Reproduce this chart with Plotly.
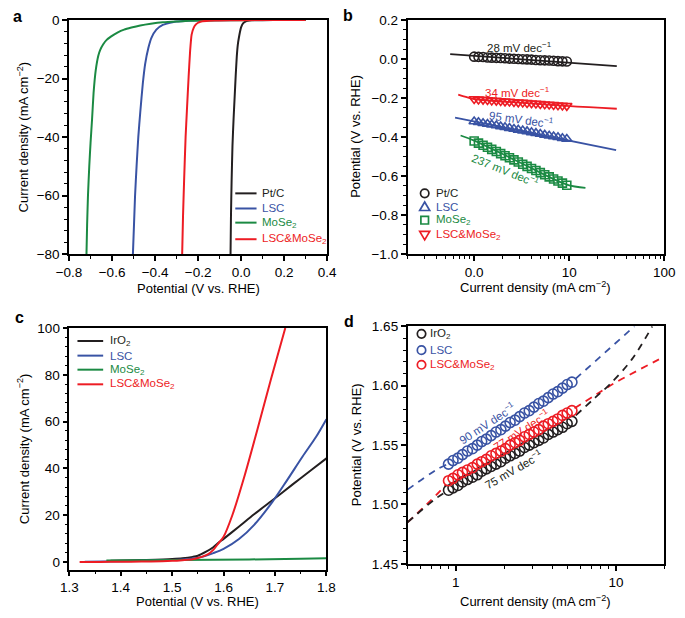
import plotly.graph_objects as go

W, H = 685, 618
def fx(p): return p / W
def fy(p): return 1 - p / H

BLACK = "#231f20"; BLUE = "#3953a4"; GREEN = "#1b8a43"; RED = "#ed1c24"
FONT = "Liberation Sans, Arial, Helvetica, sans-serif"

# ---------------- Panel a: HER polarization ----------------
a_ptc_x = [0.30, 0.20, 0.10, 0.05, 0.03, 0.02, 0.01, 0.0, -0.005, -0.01, -0.015, -0.02, -0.025, -0.03, -0.035, -0.04, -0.044, -0.047, -0.049]
a_ptc_y = [0.0, 0.0, -0.05, -0.1, -0.3, -0.6, -1.1, -2.5, -4.0, -6.0, -8.3, -12.5, -19.0, -26.5, -34.0, -43.0, -55.0, -67.0, -80.0]
a_lsc_x = [0.30, 0.10, -0.10, -0.20, -0.25, -0.28, -0.30, -0.319, -0.34, -0.364, -0.394, -0.417, -0.431, -0.446, -0.457, -0.469, -0.478, -0.486, -0.493, -0.498, -0.503]
a_lsc_y = [0.0, -0.02, -0.08, -0.15, -0.25, -0.4, -0.55, -0.8, -1.15, -1.7, -3.3, -6.1, -9.5, -15.0, -21.7, -31.7, -40.0, -50.0, -60.0, -70.0, -80.0]
a_mose_x = [0.30, 0.0, -0.10, -0.20, -0.244, -0.30, -0.364, -0.42, -0.469, -0.51, -0.544, -0.575, -0.604, -0.625, -0.641, -0.655, -0.664, -0.676, -0.686, -0.693, -0.700, -0.706, -0.712, -0.716, -0.719]
a_mose_y = [0.0, -0.05, -0.1, -0.2, -0.3, -0.5, -0.8, -1.3, -1.9, -2.6, -3.3, -4.3, -5.6, -6.8, -8.3, -10.2, -12.2, -17.2, -25.0, -33.9, -42.0, -50.0, -60.0, -70.0, -80.0]
a_mix_x = [0.30, 0.0, -0.10, -0.15, -0.18, -0.19, -0.20, -0.21, -0.22, -0.23, -0.237, -0.244, -0.252, -0.258, -0.265, -0.270, -0.274]
a_mix_y = [0.0, -0.05, -0.15, -0.25, -0.4, -0.6, -0.95, -1.5, -2.6, -5.0, -10.6, -19.5, -31.0, -40.0, -55.0, -67.0, -80.0]

# ---------------- Panel b: HER Tafel ----------------
b_x = [1.00, 1.11, 1.24, 1.38, 1.53, 1.71, 1.90, 2.11, 2.35, 2.62, 2.91, 3.24, 3.60, 4.01, 4.46, 4.96, 5.52, 6.15, 6.84, 7.61, 8.47, 9.42]
b_ptc_y = [0.012, 0.011, 0.010, 0.008, 0.007, 0.006, 0.005, 0.004, 0.002, 0.001, 0.000, -0.001, -0.002, -0.003, -0.005, -0.006, -0.007, -0.008, -0.009, -0.011, -0.012, -0.013]
b_lsc_y = [-0.320, -0.324, -0.329, -0.333, -0.337, -0.341, -0.346, -0.350, -0.354, -0.359, -0.363, -0.367, -0.371, -0.376, -0.380, -0.384, -0.389, -0.393, -0.397, -0.401, -0.406, -0.410]
b_mose_y = [-0.420, -0.431, -0.442, -0.452, -0.463, -0.474, -0.485, -0.496, -0.506, -0.517, -0.528, -0.539, -0.550, -0.561, -0.571, -0.582, -0.593, -0.604, -0.615, -0.625, -0.636, -0.647]
b_mix_y = [-0.205, -0.207, -0.208, -0.210, -0.212, -0.213, -0.215, -0.217, -0.218, -0.220, -0.222, -0.223, -0.225, -0.227, -0.228, -0.230, -0.232, -0.233, -0.235, -0.237, -0.238, -0.240]
b_fit_ptc_x = [0.56, 31.6]; b_fit_ptc_y = [0.025, -0.037]
b_fit_mix_x = [0.68, 0.85, 1.0, 9.4, 31.6]; b_fit_mix_y = [-0.183, -0.197, -0.205, -0.240, -0.255]
b_fit_lsc_x = [0.63, 31.1]; b_fit_lsc_y = [-0.300, -0.467]
b_fit_mose_x = [0.72, 1.0, 3.0, 9.25, 14.8]; b_fit_mose_y = [-0.392, -0.418, -0.529, -0.642, -0.660]
b_yticks = [-1.0, -0.8, -0.6, -0.4, -0.2, 0.0, 0.2]

# ---------------- Panel c: OER polarization ----------------
c_iro_x = [1.38, 1.40, 1.45, 1.50, 1.52, 1.54, 1.55, 1.566, 1.58, 1.591, 1.60, 1.629, 1.66, 1.695, 1.735, 1.77, 1.80]
c_iro_y = [0.5, 0.6, 0.9, 1.3, 1.6, 2.2, 2.7, 4.4, 6.3, 8.4, 9.9, 15.0, 20.5, 26.4, 33.3, 39.2, 44.3]
c_lsc_x = [1.33, 1.40, 1.45, 1.50, 1.52, 1.54, 1.56, 1.58, 1.60, 1.63, 1.66, 1.695, 1.723, 1.754, 1.78, 1.80]
c_lsc_y = [0.1, 0.35, 0.6, 0.9, 1.1, 1.5, 2.3, 3.8, 5.6, 9.8, 16.0, 25.7, 34.8, 45.2, 53.5, 61.0]
c_mose_x = [1.372, 1.45, 1.55, 1.65, 1.75, 1.80]
c_mose_y = [0.6, 0.7, 0.9, 1.1, 1.4, 1.6]
c_mix_x = [1.32, 1.36, 1.40, 1.44, 1.48, 1.50, 1.52, 1.54, 1.55, 1.56, 1.57, 1.58, 1.59, 1.60, 1.617, 1.641, 1.665, 1.692, 1.72]
c_mix_y = [0.0, 0.05, 0.1, 0.2, 0.35, 0.5, 0.8, 1.2, 1.7, 2.4, 3.4, 5.2, 8.0, 10.8, 20.0, 37.0, 56.0, 78.0, 100.0]

# ---------------- Panel d: OER Tafel ----------------
d_x = [0.90, 0.96, 1.03, 1.10, 1.18, 1.27, 1.36, 1.45, 1.55, 1.66, 1.78, 1.91, 2.04, 2.18, 2.34, 2.50, 2.68, 2.87, 3.07, 3.29, 3.52, 3.77, 4.04, 4.32, 4.63, 4.95, 5.30]
d_iro_y = [1.512, 1.514, 1.516, 1.519, 1.521, 1.523, 1.525, 1.528, 1.530, 1.532, 1.534, 1.536, 1.539, 1.541, 1.543, 1.545, 1.548, 1.550, 1.552, 1.554, 1.556, 1.559, 1.561, 1.563, 1.565, 1.568, 1.570]
d_lsc_y = [1.534, 1.537, 1.539, 1.542, 1.545, 1.547, 1.550, 1.553, 1.555, 1.558, 1.561, 1.563, 1.566, 1.569, 1.571, 1.574, 1.577, 1.579, 1.582, 1.585, 1.587, 1.590, 1.593, 1.595, 1.598, 1.601, 1.603]
d_mix_y = [1.520, 1.522, 1.525, 1.527, 1.529, 1.531, 1.534, 1.536, 1.538, 1.541, 1.543, 1.545, 1.547, 1.550, 1.552, 1.554, 1.557, 1.559, 1.561, 1.563, 1.566, 1.568, 1.570, 1.572, 1.575, 1.577, 1.579]
d_fit_iro_x = [0.5, 0.75, 0.88, None, 5.6, 7.4, 9.1, 12.5, 16.8]
d_fit_iro_y = [1.485, 1.505, 1.511, None, 1.575, 1.590, 1.601, 1.622, 1.650]
d_fit_mix_x = [0.5, 0.75, 0.87, None, 5.5, 7.4, 10.0, 20.0]
d_fit_mix_y = [1.485, 1.5076, 1.517, None, 1.581, 1.592, 1.603, 1.6245]
d_fit_lsc_x = [0.5, 0.75, 0.87, None, 5.6, 13.0]
d_fit_lsc_y = [1.5125, 1.529, 1.5335, None, 1.606, 1.650]

fig = go.Figure()

def add_line(x, y, color, xa, ya, width=2.0, dash=None, shape="linear", smoothing=1.0):
    ln = dict(color=color, width=width, dash=dash, shape=shape)
    if shape == "spline":
        ln["smoothing"] = smoothing
    fig.add_trace(go.Scatter(x=x, y=y, mode="lines", xaxis=xa, yaxis=ya, showlegend=False,
                             hoverinfo="skip", line=ln))

def add_markers(x, y, color, symbol, xa, ya, size=9):
    fig.add_trace(go.Scatter(x=x, y=y, mode="markers", xaxis=xa, yaxis=ya, showlegend=False,
                             hoverinfo="skip",
                             marker=dict(symbol=symbol, size=size, color=color,
                                         line=dict(color=color, width=1.6))))

# a
add_line(a_ptc_x, a_ptc_y, BLACK, "x", "y", shape="spline", smoothing=0.5)
add_line(a_lsc_x, a_lsc_y, BLUE, "x", "y", shape="spline", smoothing=0.5)
add_line(a_mose_x, a_mose_y, GREEN, "x", "y", shape="spline", smoothing=0.5)
add_line(a_mix_x, a_mix_y, RED, "x", "y", shape="spline", smoothing=0.5)

# b
add_line(b_fit_ptc_x, b_fit_ptc_y, BLACK, "x2", "y2", 1.8)
add_line(b_fit_mix_x, b_fit_mix_y, RED, "x2", "y2", 1.8, shape="spline")
add_line(b_fit_lsc_x, b_fit_lsc_y, BLUE, "x2", "y2", 1.8)
add_line(b_fit_mose_x, b_fit_mose_y, GREEN, "x2", "y2", 1.8, shape="spline")
add_markers(b_x, b_ptc_y, BLACK, "circle-open", "x2", "y2", 9)
add_markers(b_x, b_mix_y, RED, "triangle-down-open", "x2", "y2", 9)
add_markers(b_x, b_lsc_y, BLUE, "triangle-up-open", "x2", "y2", 9)
add_markers(b_x, b_mose_y, GREEN, "square-open", "x2", "y2", 8)

# c
add_line(c_iro_x, c_iro_y, BLACK, "x3", "y3", shape="spline", smoothing=0.8)
add_line(c_lsc_x, c_lsc_y, BLUE, "x3", "y3", shape="spline", smoothing=0.8)
add_line(c_mose_x, c_mose_y, GREEN, "x3", "y3")
add_line(c_mix_x, c_mix_y, RED, "x3", "y3", shape="spline", smoothing=0.8)

# d
add_line(d_fit_lsc_x, d_fit_lsc_y, BLUE, "x4", "y4", 1.8, dash="7px,6px", shape="spline")
add_line(d_fit_mix_x, d_fit_mix_y, RED, "x4", "y4", 1.8, dash="7px,6px", shape="spline")
add_line(d_fit_iro_x, d_fit_iro_y, BLACK, "x4", "y4", 1.8, dash="7px,6px", shape="spline")
add_markers(d_x, d_iro_y, BLACK, "circle-open", "x4", "y4", 10)
add_markers(d_x, d_lsc_y, BLUE, "circle-open", "x4", "y4", 10)
add_markers(d_x, d_mix_y, RED, "circle-open", "x4", "y4", 10)

def axis(domain, anchor, **kw):
    minor = dict(ticks="outside", ticklen=3, tickwidth=1.2, tickcolor="black", showgrid=False)
    minor.update(kw.pop("minor", {}))
    d = dict(domain=domain, anchor=anchor, showline=True, linecolor="black", linewidth=1.5,
             mirror=True, ticks="outside", ticklen=5, tickwidth=1.5, tickcolor="black",
             showgrid=False, zeroline=False, tickfont=dict(size=13.5, color="black", family=FONT),
             minor=minor)
    d.update(kw)
    return d

xa_dom = [fx(58), fx(325)]
xb_dom = [fx(408.3), fx(674)]
xc_dom = [fx(58.3), fx(324.3)]
xd_dom = [fx(408.3), fx(674)]
ya_dom = [fy(253.3), fy(13.3)]
yb_dom = [fy(253.3), fy(13.3)]
yc_dom = [fy(576.5), fy(329)]
yd_dom = [fy(570.7), fy(327.3)]

log_minor_b = [0.2, 0.3, 0.4, 0.5, 0.6, 0.7, 0.8, 0.9, 2, 3, 4, 5, 6, 7, 8, 9, 20, 30, 40, 50, 60, 70, 80, 90]
log_minor_d = [0.5, 0.6, 0.7, 0.8, 0.9, 2, 3, 4, 5, 6, 7, 8, 9, 20]

fig.update_layout(
    width=W, height=H, margin=dict(l=0, r=0, t=0, b=0),
    paper_bgcolor="white", plot_bgcolor="white",
    font=dict(family=FONT, color="black"),
    showlegend=False,
    xaxis=axis(xa_dom, "y", range=[-0.8, 0.4], tick0=-0.8, dtick=0.2, tickformat=".1f",
               minor=dict(dtick=0.1, tick0=-0.8)),
    yaxis=axis(ya_dom, "x", range=[-80, 0], tick0=0, dtick=20,
               minor=dict(dtick=4, tick0=0)),
    xaxis2=axis(xb_dom, "y2", type="log", range=[-0.7, 2.0], tickmode="array",
                tickvals=[1, 10, 100], ticktext=["0.0", "10", "100"],
                minor=dict(tickmode="array", tickvals=log_minor_b)),
    yaxis2=axis(yb_dom, "x2", range=[-1.0, 0.2], tickmode="array", tickvals=b_yticks,
                ticktext=[f"{v:.1f}".replace("-", "−") for v in b_yticks],
                minor=dict(dtick=0.05, tick0=0)),
    xaxis3=axis(xc_dom, "y3", range=[1.3, 1.8], tick0=1.3, dtick=0.1, tickformat=".1f",
                minor=dict(dtick=0.05, tick0=1.3)),
    yaxis3=axis(yc_dom, "x3", range=[-3.2, 100], tick0=0, dtick=20,
                minor=dict(dtick=4, tick0=0)),
    xaxis4=axis(xd_dom, "y4", type="log", range=[-0.30103, 1.30103], tickmode="array",
                tickvals=[1, 10], ticktext=["1", "10"],
                minor=dict(tickmode="array", tickvals=log_minor_d)),
    yaxis4=axis(yd_dom, "x4", range=[1.45, 1.65], tick0=1.45, dtick=0.05, tickformat=".2f",
                minor=dict(dtick=0.01, tick0=1.45)),
)

ann = []
def text(px, py, s, size=13, color="black", angle=0, xanchor="center", yanchor="middle", bold=False):
    ann.append(dict(x=fx(px), y=fy(py), xref="paper", yref="paper", text=(f"<b>{s}</b>" if bold else s),
                    showarrow=False, textangle=angle, xanchor=xanchor, yanchor=yanchor,
                    borderpad=0,
                    font=dict(size=size, color=color, family=FONT)))

# panel letters
text(5, 10, "a", 16, bold=True)
text(347, 8.5, "b", 16, bold=True)
text(6.5, 318, "c", 16, bold=True)
text(347.5, 322.5, "d", 16, bold=True)

CD = "Current density (mA cm<sup>−2</sup>)"
PV = "Potential (V vs. RHE)"
# axis titles
text(191.5, 288, PV)
text(10, 133, CD, angle=-90)
text(541, 287, CD)
text(355, 133, PV, angle=-90)
text(191, 609, PV)
text(10, 452.5, CD, angle=-90)
text(541, 609, CD)
text(355, 449, PV, angle=-90)

# slope labels
S = 11.5
text(523.7, 40.5, "28 mV dec<sup>−1</sup>", S, BLACK)
text(521.7, 87, "34 mV dec<sup>−1</sup>", S, RED)
text(526, 114.5, "95 mV dec<sup>−1</sup>", S, BLUE, angle=8)
text(509.7, 167, "237 mV dec<sup>−1</sup>", S, GREEN, angle=22)
text(490.7, 426.7, "90 mV dec<sup>−1</sup>", S, BLUE, angle=-33)
text(525.7, 433.3, "77 mV dec<sup>−1</sup>", S, RED, angle=-33)
text(518.3, 473.3, "75 mV dec<sup>−1</sup>", S, BLACK, angle=-30)

shapes = []
LS = 11.5
def leg_line(x0, x1, py, color, label, tx):
    shapes.append(dict(type="line", xref="paper", yref="paper", x0=fx(x0), x1=fx(x1), y0=fy(py), y1=fy(py),
                       line=dict(color=color, width=2)))
    text(tx, py, label, LS, color, xanchor="left")

def leg_marker(px, py, color, kind, label, tx):
    base = dict(xref="paper", yref="paper", xsizemode="pixel", ysizemode="pixel",
                xanchor=fx(px), yanchor=fy(py), line=dict(color=color, width=1.7))
    if kind == "circle":
        base.update(type="circle", x0=-4.2, x1=4.2, y0=-4.2, y1=4.2)
    elif kind == "square":
        base.update(type="rect", x0=-3.8, x1=3.8, y0=-3.8, y1=3.8)
    elif kind == "up":
        base.update(type="path", path="M-5,-3.5 L5,-3.5 L0,5 Z")
    else:
        base.update(type="path", path="M-5,3.5 L5,3.5 L0,-5 Z")
    shapes.append(base)
    text(tx, py, label, LS, color, xanchor="left")

# legend a
leg_line(230, 252, 191, BLACK, "Pt/C", 257)
leg_line(230, 252, 206.5, BLUE, "LSC", 257)
leg_line(230, 252, 221, GREEN, "MoSe<sub>2</sub>", 257)
leg_line(230, 252, 238, RED, "LSC&amp;MoSe<sub>2</sub>", 257)
# legend b
leg_marker(426, 191, BLACK, "circle", "Pt/C", 436.5)
leg_marker(426, 205, BLUE, "up", "LSC", 436.5)
leg_marker(426, 218.5, GREEN, "square", "MoSe<sub>2</sub>", 436.5)
leg_marker(426, 233.5, RED, "down", "LSC&amp;MoSe<sub>2</sub>", 436.5)
# legend c
leg_line(66.7, 93.3, 342.3, BLACK, "IrO<sub>2</sub>", 99)
leg_line(66.7, 93.3, 357.3, BLUE, "LSC", 99)
leg_line(66.7, 93.3, 371.7, GREEN, "MoSe<sub>2</sub>", 99)
leg_line(66.7, 93.3, 386.7, RED, "LSC&amp;MoSe<sub>2</sub>", 99)
# legend d
leg_marker(422.7, 335, BLACK, "circle", "IrO<sub>2</sub>", 430.5)
leg_marker(422.7, 351.7, BLUE, "circle", "LSC", 430.5)
leg_marker(422.7, 366.7, RED, "circle", "LSC&amp;MoSe<sub>2</sub>", 430.5)

fig.update_layout(annotations=ann, shapes=shapes)
fig.write_html("out.html", config={"displayModeBar": False},
               post_script="document.body.style.margin='0';document.body.style.overflow='hidden';")
